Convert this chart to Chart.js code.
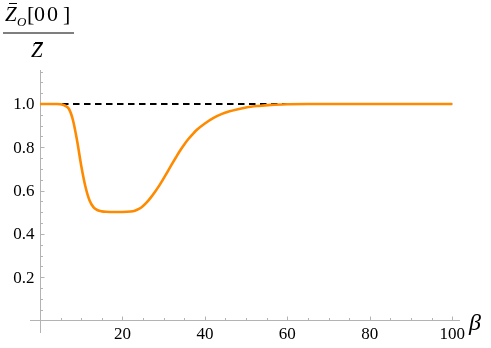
<!DOCTYPE html>
<html>
<head>
<meta charset="utf-8">
<script src="https://cdn.jsdelivr.net/npm/chart.js@4"></script>
<style>
  html, body { margin: 0; padding: 0; background: #fff; }
  #wrap { width: 491px; height: 348px; }
</style>
</head>
<body>
<div id="wrap"><canvas id="chart1"></canvas></div>
<script>
// values
const betas = [0, 2, 4, 5, 6, 7, 8, 9, 10, 11, 12, 13, 14, 15, 16, 18, 20, 22, 23, 24, 25, 26, 27, 28, 29, 30,
  31, 32, 33, 34, 35, 36, 37, 38, 40, 42, 44, 46, 48, 50, 53, 56, 60, 65, 70, 80, 90, 100];
const ratio = [1, 1, 1, 0.999, 0.993, 0.978, 0.925, 0.83, 0.715, 0.62, 0.555, 0.522, 0.509, 0.504, 0.502, 0.501,
  0.501, 0.503, 0.507, 0.515, 0.529, 0.548, 0.571, 0.597, 0.625, 0.656, 0.689, 0.722, 0.754, 0.785, 0.813, 0.838,
  0.86, 0.88, 0.91, 0.935, 0.953, 0.966, 0.976, 0.984, 0.991, 0.996, 0.999, 1, 1, 1, 1, 1];
const refBeta = [0, 100];
const refVal = [1, 1];
const xTicks = [20, 40, 60, 80, 100];
const yTicks = [0.2, 0.4, 0.6, 0.8, 1.0];
const xName = String.fromCharCode(0x3b2);

const tickFont = '17px "Liberation Serif"';
const mathFont = 'italic 21px "Liberation Serif"';
const subFont = 'italic 13px "Liberation Serif"';
const brFont = '22px "Liberation Serif"';
const betaFont = 'italic 24px "Liberation Serif"';
const axisGray = '#b3b3b3';

// mathematica-like axes crossing at (0,0), ticks pointing inward
const axesPlugin = {
  id: 'axes',
  beforeDatasetsDraw(chart) {
    const ctx = chart.ctx, a = chart.chartArea;
    const xs = chart.scales.x, ys = chart.scales.y;
    const x0 = Math.round(xs.getPixelForValue(0)) + 0.5;
    const y0 = Math.round(ys.getPixelForValue(0)) + 0.5;
    ctx.save();
    ctx.strokeStyle = axisGray;
    ctx.lineWidth = 1;
    ctx.beginPath();
    ctx.moveTo(a.left, y0); ctx.lineTo(a.right, y0);
    ctx.moveTo(x0, a.top); ctx.lineTo(x0, a.bottom);
    for (let v = 5; v <= 100; v += 5) {
      const px = Math.round(xs.getPixelForValue(v)) + 0.5;
      const len = v % 20 === 0 ? 4 : 2.5;
      ctx.moveTo(px, y0); ctx.lineTo(px, y0 - len);
    }
    for (let i = 1; i <= 23; i++) {
      const py = Math.round(ys.getPixelForValue(i * 0.05)) + 0.5;
      const len = i % 4 === 0 ? 4 : 2.5;
      ctx.moveTo(x0, py); ctx.lineTo(x0 + len, py);
    }
    ctx.stroke();

    ctx.fillStyle = '#000';
    ctx.font = tickFont;
    ctx.textAlign = 'center';
    ctx.textBaseline = 'top';
    xTicks.forEach(v => ctx.fillText(String(v), xs.getPixelForValue(v), y0 + 6));
    ctx.textAlign = 'right';
    ctx.textBaseline = 'middle';
    yTicks.forEach(v => ctx.fillText(v.toFixed(1), x0 - 6, ys.getPixelForValue(v) + 1));
    ctx.restore();
  },
  afterDraw(chart) {
    const ctx = chart.ctx;
    ctx.save();
    ctx.fillStyle = '#000';
    ctx.strokeStyle = '#000';
    ctx.textAlign = 'left';
    ctx.textBaseline = 'alphabetic';
    ctx.font = mathFont;
    ctx.fillText('Z', 5, 21);
    ctx.font = subFont;
    ctx.fillText('O', 17, 26);
    ctx.font = brFont;
    ctx.fillText('[', 27, 21);
    ctx.fillText('0', 34, 21);
    ctx.fillText('0', 47, 21);
    ctx.fillText(']', 63, 21);
    ctx.font = mathFont;
    ctx.fillText('Z', 31, 57);
    ctx.lineWidth = 1;
    ctx.beginPath();
    ctx.moveTo(9, 3.5); ctx.lineTo(17, 3.5);
    ctx.moveTo(35, 42.5); ctx.lineTo(43, 42.5);
    ctx.stroke();
    ctx.lineWidth = 1.2;
    ctx.beginPath();
    ctx.moveTo(3, 33); ctx.lineTo(74, 33);
    ctx.stroke();
    ctx.font = betaFont;
    ctx.fillText(xName, 469, 330);
    ctx.restore();
  }
};

function renderChart() {
  const ctx = document.querySelector('#chart1').getContext('2d');
  const chart = new Chart(ctx, {
    type: 'line',
    data: {
      datasets: [
        {
          label: 'ratio',
          data: betas.map((b, i) => ({ x: b, y: ratio[i] })),
          borderColor: '#ff8a00',
          borderWidth: 2.6,
          pointRadius: 0,
          cubicInterpolationMode: 'monotone',
          fill: false,
        },
        {
          label: 'reference',
          data: refBeta.map((b, i) => ({ x: b, y: refVal[i] })),
          borderColor: '#000',
          borderWidth: 2,
          borderDash: [6.5, 4.5],
          pointRadius: 0,
          fill: false,
        },
      ],
    },
    options: {
      responsive: true,
      maintainAspectRatio: false,
      animation: false,
      layout: { padding: { left: 30, right: 31, top: 70, bottom: 15 } },
      plugins: { legend: { display: false }, tooltip: { enabled: false } },
      scales: {
        x: { type: 'linear', min: -2.43, max: 101.9, display: false },
        y: { type: 'linear', min: -0.058, max: 1.157, display: false },
      },
    },
    plugins: [axesPlugin],
  });
}
renderChart();
</script>
</body>
</html>
